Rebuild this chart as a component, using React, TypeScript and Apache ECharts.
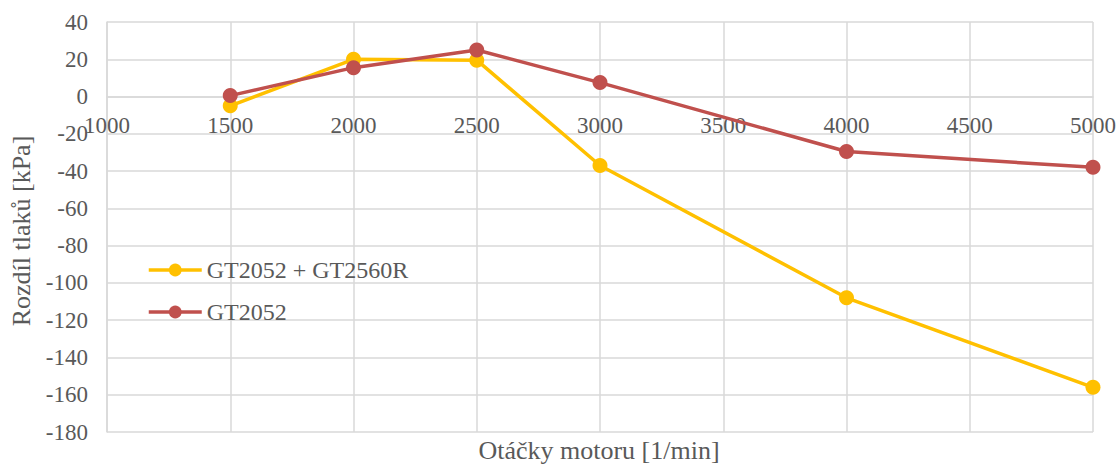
import React, { useEffect, useRef } from "react";
import * as echarts from "echarts";

const rpm = [1500, 2000, 2500, 3000, 4000, 5000];
const seriesNames = ["GT2052 + GT2560R", "GT2052"];
const dualTurbo = [-5, 20, 19.5, -37, -108, -156];
const singleTurbo = [0.5, 15.5, 25, 7.5, -29.5, -38];
const xTitle = "Otáčky motoru [1/min]";
const yTitle = "Rozdíl tlaků [kPa]";

const FONT = "Liberation Serif";
const TXT = "#595959";
const GRID = "#d9d9d9";

export default function App() {
  const ref = useRef<HTMLDivElement>(null);
  useEffect(() => {
    if (!ref.current) return;
    const chart = echarts.init(ref.current, undefined, { renderer: "svg" });
    const mk = (vals: number[]) => rpm.map((x, i) => [x, vals[i]]);
    chart.setOption({
      animation: false,
      textStyle: { fontFamily: FONT },
      grid: { left: 107, right: 27, top: 22, bottom: 34 },
      legend: {
        orient: "vertical",
        left: 142,
        top: 253,
        itemWidth: 53,
        itemHeight: 16,
        itemGap: 18,
        data: seriesNames,
        lineStyle: { width: 3.5 },
        textStyle: { fontFamily: FONT, fontSize: 24, color: TXT },
      },
      xAxis: {
        type: "value",
        min: 1000,
        max: 5000,
        interval: 500,
        position: "bottom",
        offset: -335.5,
        axisLine: { onZero: false, lineStyle: { color: GRID, width: 1.5 } },
        axisTick: { show: false },
        axisLabel: {
          fontFamily: FONT,
          fontSize: 23,
          color: TXT,
          margin: 17,
          formatter: (v: number) => String(v),
        },
        splitLine: { show: true, lineStyle: { color: GRID, width: 1.5 } },
      },
      yAxis: {
        type: "value",
        min: -180,
        max: 40,
        interval: 20,
        axisLine: { show: true, onZero: false, lineStyle: { color: GRID, width: 1.5 } },
        axisTick: { show: false },
        axisLabel: { fontFamily: FONT, fontSize: 23, color: TXT, margin: 19 },
        splitLine: { show: true, lineStyle: { color: GRID, width: 1.5 } },
      },
      graphic: [
        {
          type: "text",
          x: 599,
          y: 437,
          style: {
            text: xTitle,
            fontFamily: FONT,
            fontSize: 26,
            fill: TXT,
            align: "center",
            verticalAlign: "top",
          },
        },
        {
          type: "text",
          x: 8,
          y: 231,
          rotation: Math.PI / 2,
          style: {
            text: yTitle,
            fontFamily: FONT,
            fontSize: 26,
            fill: TXT,
            align: "center",
            verticalAlign: "top",
          },
        },
      ],
      series: [
        {
          name: seriesNames[0],
          type: "line",
          data: mk(dualTurbo),
          symbol: "circle",
          symbolSize: 15,
          itemStyle: { color: "#FFC000" },
          lineStyle: { color: "#FFC000", width: 3.5 },
          z: 2,
        },
        {
          name: seriesNames[1],
          type: "line",
          data: mk(singleTurbo),
          symbol: "circle",
          symbolSize: 15,
          itemStyle: { color: "#C0504D" },
          lineStyle: { color: "#C0504D", width: 3.5 },
          z: 3,
        },
      ],
    });
    return () => chart.dispose();
  }, []);
  return (
    <div
      ref={ref}
      style={{ position: "absolute", left: 0, top: 0, width: 1120, height: 466 }}
    />
  );
}
